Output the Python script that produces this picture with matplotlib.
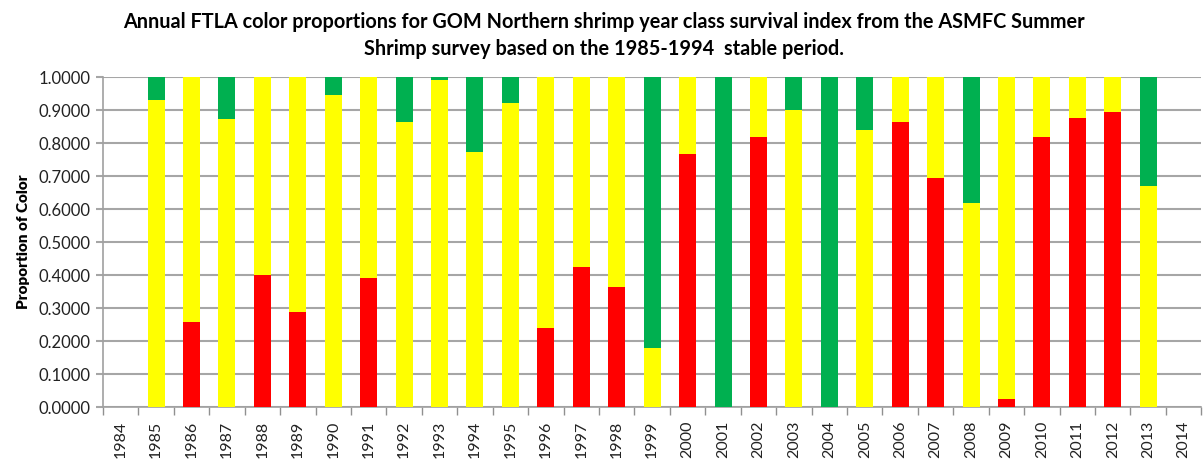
import numpy as np
import matplotlib
matplotlib.use('Agg')
import matplotlib.pyplot as plt

plt.rcParams['font.family'] = ['Lato', 'DejaVu Sans']

years = [str(y) for y in range(1984, 2015)]

# proportion of red / yellow / green per year (1984 and 2014 have no data)
red = [0, 0, 0.258, 0, 0.40, 0.288, 0, 0.392, 0, 0, 0, 0, 0.24, 0.425, 0.364,
       0, 0.768, 0, 0.82, 0, 0, 0, 0.864, 0.693, 0, 0.023, 0.82, 0.877, 0.894, 0, 0]
yellow = [0, 0.93, 0.742, 0.872, 0.60, 0.712, 0.946, 0.608, 0.864, 0.99, 0.774, 0.921,
          0.76, 0.575, 0.636, 0.178, 0.232, 0, 0.18, 0.90, 0, 0.841, 0.136, 0.307,
          0.619, 0.977, 0.18, 0.123, 0.106, 0.671, 0]
green = [0, 0.07, 0, 0.128, 0, 0, 0.054, 0, 0.136, 0.01, 0.226, 0.079, 0, 0, 0,
         0.822, 0, 1.0, 0, 0.10, 1.0, 0.159, 0, 0, 0.381, 0, 0, 0, 0, 0.329, 0]

red = np.array(red)
yellow = np.array(yellow)
green = np.array(green)
x = np.arange(len(years))

fig = plt.figure(figsize=(12.03, 4.62), dpi=100)
ax = fig.add_axes([0.0856, 0.119, 0.913, 0.714])

w = 0.48
ax.bar(x, red, w, color='#FF0000', zorder=3)
ax.bar(x, yellow, w, bottom=red, color='#FFFF00', zorder=3)
ax.bar(x, green, w, bottom=red + yellow, color='#00B050', zorder=3)

ax.set_xlim(-0.5, len(years) - 0.5)
ax.set_ylim(0, 1)
ax.set_yticks(np.arange(0, 1.01, 0.1))
ax.set_yticklabels(['%.4f' % v for v in np.arange(0, 1.01, 0.1)], fontsize=12, color='#222222')
ax.yaxis.grid(True, color='#A6A6A6', lw=1.5, zorder=0)

ax.set_xticks(x)
ax.set_xticklabels(years, rotation=90, fontsize=11.5, color='#222222')
ax.set_xticks(np.arange(-0.5, len(years), 1), minor=True)
ax.tick_params(axis='x', which='major', length=0, pad=10)
ax.tick_params(axis='x', which='minor', length=6, color='#909090', width=1)
ax.tick_params(axis='y', length=5, color='#A6A6A6', width=1.5, pad=4)

for s in ['top', 'right']:
    ax.spines[s].set_visible(False)
ax.spines['left'].set_color('#A0A0A0')
ax.spines['bottom'].set_color('#A0A0A0')
ax.spines['left'].set_linewidth(1.2)
ax.spines['bottom'].set_linewidth(1.2)

ax.set_ylabel('Proportion of Color', fontsize=11, fontweight='heavy', labelpad=6)

fig.text(0.502, 0.975, 'Annual FTLA color proportions for GOM Northern shrimp year class survival index from the ASMFC Summer\n'
         'Shrimp survey based on the 1985-1994  stable period.',
         ha='center', va='top', fontsize=14.3, fontweight='bold', linespacing=1.45)

fig.savefig('out.png', dpi=100)
